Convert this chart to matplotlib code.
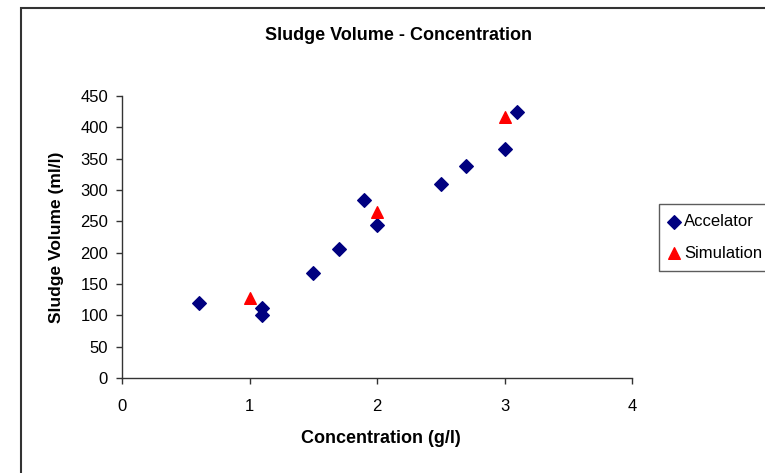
import matplotlib
matplotlib.use("Agg")
import matplotlib.pyplot as plt
from matplotlib.patches import Rectangle

plt.rcParams['font.family'] = ['Liberation Sans', 'DejaVu Sans']

# ---- data ----
acc_x = [0.6, 1.1, 1.1, 1.5, 1.7, 1.9, 2.0, 2.5, 2.7, 3.0, 3.1]
acc_y = [120, 112, 100, 168, 206, 284, 244, 309, 338, 366, 425]
sim_x = [1.0, 2.0, 3.0]
sim_y = [128, 265, 417]
x_ticks = [0, 1, 2, 3, 4]
y_ticks = [0, 50, 100, 150, 200, 250, 300, 350, 400, 450]

W, H = 765, 473
fig = plt.figure(figsize=(W / 100, H / 100), dpi=100)
ax = fig.add_axes([122 / W, 1 - 378 / H, (632 - 122) / W, (378 - 96) / H])

ax.scatter(acc_x, acc_y, marker='D', s=48, color='#000080', label='Accelator', clip_on=False, zorder=3)
ax.scatter(sim_x, sim_y, marker='^', s=70, color='#FF0000', label='Simulation', clip_on=False, zorder=3)

ax.set_xlim(0, 4)
ax.set_ylim(0, 450)
ax.set_xticks(x_ticks)
ax.set_yticks(y_ticks)
ax.tick_params(labelsize=12, length=4, width=1, color='#333333')
ax.tick_params(axis='y', pad=6)
ax.tick_params(axis='x', pad=11)
for s in ['top', 'right']:
    ax.spines[s].set_visible(False)
for s in ['left', 'bottom']:
    ax.spines[s].set_color('#333333')
    ax.spines[s].set_linewidth(1)

fig.text(398 / W, 1 - 35 / H, 'Sludge Volume - Concentration', ha='center', va='center',
         fontsize=13, fontweight='bold')
fig.text(381 / W, 1 - 438 / H, 'Concentration (g/l)', ha='center', va='center',
         fontsize=13, fontweight='bold')
fig.text(57 / W, 1 - 237 / H, 'Sludge Volume (ml/l)', ha='center', va='center',
         fontsize=12.5, fontweight='bold', rotation=90)

leg = fig.legend(loc='upper left', bbox_to_anchor=(659 / W, 1 - 204 / H), fontsize=12,
                 frameon=True, fancybox=False, handlelength=0.6, handletextpad=0.3,
                 borderpad=0.6, labelspacing=1.0, borderaxespad=0, scatterpoints=1)
leg.get_frame().set_edgecolor('#333333')
leg.get_frame().set_linewidth(1)

# outer chart frame
fig.patches.append(Rectangle((21 / W, -0.1), 1.2, 1.1 - 8 / H, transform=fig.transFigure,
                             fill=False, edgecolor='#333333', linewidth=1.5))

fig.savefig('out.png', dpi=100)
